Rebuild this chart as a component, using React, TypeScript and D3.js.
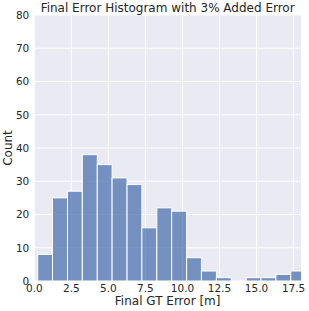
import * as d3 from 'd3'

const WIDTH = 309
const HEIGHT = 311
const MARGIN = { top: 15, right: 8, bottom: 30, left: 34.3 }

const FONT = "'DejaVu Sans', sans-serif"
const PANEL_BG = '#EAEAF2'
const BAR_FILL = '#4C72B0'
const TEXT = '#262626'

// histogram bins
const BIN_EDGES = [0.23, 1.23, 2.24, 3.24, 4.25, 5.25, 6.26, 7.26, 8.27, 9.27, 10.28, 11.28, 12.29, 13.29, 14.3, 15.3, 16.31, 17.31, 18.32]
const COUNTS = [8, 25, 27, 38, 35, 31, 29, 16, 22, 21, 7, 3, 1, 0, 1, 1, 2, 3]

const X_TICKS = [0, 2.5, 5, 7.5, 10, 12.5, 15, 17.5]
const Y_TICKS = [0, 10, 20, 30, 40, 50, 60, 70, 80]

export default function App() {
  const w = WIDTH - MARGIN.left - MARGIN.right
  const h = HEIGHT - MARGIN.top - MARGIN.bottom

  const x = d3.scaleLinear().domain([0, 18]).range([0, w])
  const y = d3.scaleLinear().domain([0, 80]).range([h, 0])

  const bins = COUNTS.map((c, i) => ({ x0: BIN_EDGES[i], x1: BIN_EDGES[i + 1], count: c }))

  return (
    <div style={{ position: 'absolute', left: 0, top: 0 }}>
      <svg width={WIDTH} height={HEIGHT} style={{ display: 'block' }} fontFamily={FONT}>
        <defs>
          <clipPath id="plot-clip">
            <rect x={0} y={0} width={w} height={h} />
          </clipPath>
        </defs>
        <g transform={`translate(${MARGIN.left},${MARGIN.top})`}>
          <rect x={0} y={0} width={w} height={h} fill={PANEL_BG} />

          {/* grid */}
          {Y_TICKS.map((t) => (
            <line key={'gy' + t} x1={0} x2={w} y1={y(t)} y2={y(t)} stroke="#fff" strokeWidth={1} />
          ))}
          {X_TICKS.map((t) => (
            <line key={'gx' + t} x1={x(t)} x2={x(t)} y1={0} y2={h} stroke="#fff" strokeWidth={1} />
          ))}

          {/* bars */}
          <g clipPath="url(#plot-clip)">
            {bins.filter((b) => b.count > 0).map((b, i) => (
              <rect
                key={i}
                x={x(b.x0)}
                y={y(b.count)}
                width={x(b.x1) - x(b.x0)}
                height={y(0) - y(b.count)}
                fill={BAR_FILL}
                fillOpacity={0.75}
                stroke="#fff"
                strokeWidth={1}
              />
            ))}
          </g>

          {/* tick labels */}
          {Y_TICKS.map((t) => (
            <text key={'ty' + t} x={-5} y={y(t)} dy="0.36em" textAnchor="end" fontSize={10.5} fill={TEXT}>
              {t}
            </text>
          ))}
          {X_TICKS.map((t) => (
            <text key={'tx' + t} x={x(t)} y={h + 11} textAnchor="middle" fontSize={10.5} fill={TEXT}>
              {d3.format('.1f')(t)}
            </text>
          ))}

          {/* axis labels */}
          <text x={w / 2} y={h + 24} textAnchor="middle" fontSize={12} fill={TEXT}>
            Final GT Error [m]
          </text>
          <text
            transform={`translate(${-MARGIN.left + 12},${h / 2}) rotate(-90)`}
            textAnchor="middle"
            fontSize={12}
            fill={TEXT}
          >
            Count
          </text>
          <text x={w / 2} y={-3} textAnchor="middle" fontSize={12} fill={TEXT}>
            Final Error Histogram with 3% Added Error
          </text>
        </g>
      </svg>
    </div>
  )
}
